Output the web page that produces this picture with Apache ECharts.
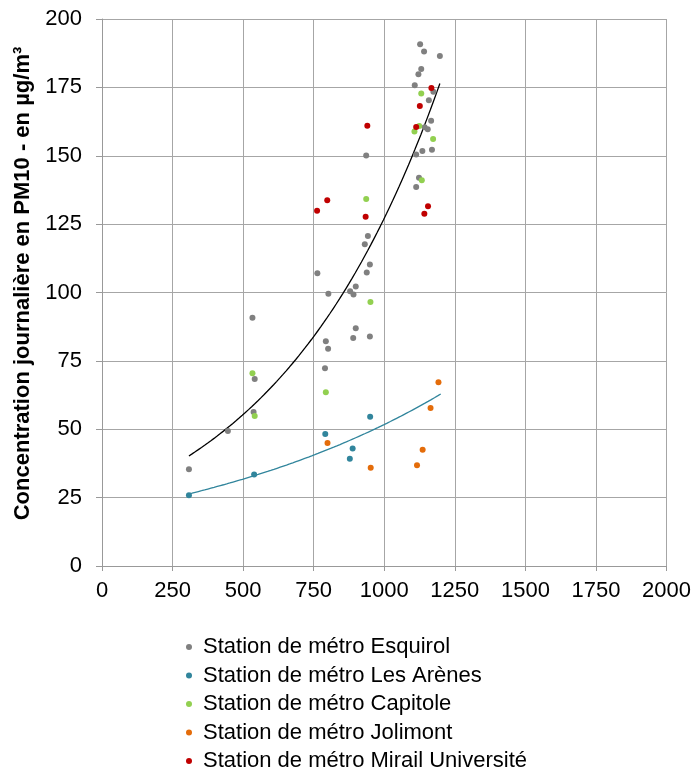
<!DOCTYPE html>
<html><head><meta charset="utf-8">
<script src="https://cdn.jsdelivr.net/npm/echarts@6/dist/echarts.min.js"></script>
<style>html,body{margin:0;padding:0;background:#fff}#c{width:694px;height:774px}</style>
</head><body><div id="c"></div>
<script>
const seriesNames = ["Station de métro Esquirol","Station de métro Les Arènes","Station de métro Capitole","Station de métro Jolimont","Station de métro Mirail Université"];
const esquirol = [[308,35.4],[446,49.4],[533,90.8],[541,68.4],[537,56.3],[763,107],[949,110.2],[938,107.3],[802,99.5],[899,102.2],[879,100.5],[891,99.3],[899,86.9],[890,83.4],[949,83.9],[793,82.2],[801,79.4],[790,72.3],[1127,190.8],[1141,188.1],[1197,186.5],[1131,181.7],[1121,179.8],[1108,175.8],[1174,173.4],[1158,170.3],[1166,162.8],[1143,160.4],[1154,159.7],[1113,150.5],[1135,151.7],[1169,152.2],[1123,142.0],[1113,138.6],[936,150.1],[942,120.7],[931,117.6]];
const arenes = [[308,25.9],[539,33.5],[791,48.3],[878,39.2],[888,43.0],[950,54.6]];
const capitole = [[533,70.5],[541,54.8],[793,63.5],[951,96.5],[936,134.2],[1131,172.8],[1107,158.9],[1124,160.9],[1173,156.1],[1133,141.0]];
const jolimont = [[1192,67.2],[1164,57.8],[799,45.0],[1136,42.5],[1116,36.8],[952,35.9]];
const mirail = [[1167,174.8],[1126,168.2],[1113,160.5],[940,161.0],[798,133.7],[762,129.9],[934,127.7],[1155,131.5],[1142,128.8]];
const xTicks = [0,250,500,750,1000,1250,1500,1750,2000];
const yTicks = [0,25,50,75,100,125,150,175,200];
const arenesForecast = 250;

function expFit(pts){
  const n=pts.length; let sx=0,sl=0;
  pts.forEach(p=>{sx+=p[0]; sl+=Math.log(p[1]);});
  const mx=sx/n, ml=sl/n; let num=0,den=0;
  pts.forEach(p=>{num+=(p[0]-mx)*(Math.log(p[1])-ml); den+=(p[0]-mx)*(p[0]-mx);});
  const b=num/den, a=Math.exp(ml-b*mx);
  return {a,b};
}
function trend(pts, fwd){
  const f=expFit(pts);
  const xs=pts.map(p=>p[0]);
  const x0=Math.min(...xs), x1=Math.max(...xs)+fwd;
  const out=[]; const steps=80;
  for(let i=0;i<=steps;i++){const x=x0+(x1-x0)*i/steps; out.push([x,f.a*Math.exp(f.b*x)]);}
  return out;
}
const colors = ['#808080','#31859C','#92D050','#E46C0A','#C00000'];
const font = 'Liberation Sans, Arial, sans-serif';
const chart = echarts.init(document.getElementById('c'), null, {renderer:'canvas'});
const dataSets=[esquirol,arenes,capitole,jolimont,mirail];
const scatter = dataSets.map((d,i)=>({name:seriesNames[i],type:'scatter',data:d,symbol:'circle',symbolSize:6,itemStyle:{color:colors[i],opacity:1},z:3}));
chart.setOption({
  animation:false,
  textStyle:{fontFamily:font},
  grid:{left:102,right:26,top:19,bottom:208,containLabel:false},
  xAxis:{type:'value',min:xTicks[0],max:xTicks[xTicks.length-1],interval:xTicks[1]-xTicks[0],
    axisLine:{show:true,lineStyle:{color:'#999',width:1}},
    axisTick:{show:true,length:5,inside:false,lineStyle:{color:'#999'}},
    axisLabel:{fontSize:22,color:'#000',fontFamily:font,margin:14,formatter:v=>String(v)},
    splitLine:{show:true,lineStyle:{color:'#a6a6a6',width:1}}},
  yAxis:{type:'value',min:yTicks[0],max:yTicks[yTicks.length-1],interval:yTicks[1]-yTicks[0],
    name:'Concentration journalière en PM10 - en µg/m³',nameLocation:'middle',nameRotate:90,nameGap:68,
    nameTextStyle:{fontSize:22,fontWeight:'bold',color:'#000',fontFamily:font,padding:[0,0,0,18]},
    axisLine:{show:true,lineStyle:{color:'#999',width:1}},
    axisTick:{show:true,length:6,inside:false,lineStyle:{color:'#999'}},
    axisLabel:{fontSize:22,color:'#000',fontFamily:font,margin:20,formatter:v=>String(v)},
    splitLine:{show:true,lineStyle:{color:'#a6a6a6',width:1}}},
  legend:{orient:'vertical',left:186,top:636,padding:0,itemWidth:6,itemHeight:6,itemGap:6.5,
    icon:'circle',data:seriesNames,
    textStyle:{fontSize:22,lineHeight:22,color:'#000',fontFamily:font,padding:[0,0,0,6]}},
  series:[...scatter,
    {name:'trendEsq',type:'line',data:trend(esquirol,0),showSymbol:false,symbol:'none',lineStyle:{color:'#000',width:1.3},z:2,silent:true},
    {name:'trendAr',type:'line',data:trend(arenes,arenesForecast),showSymbol:false,symbol:'none',lineStyle:{color:'#31859C',width:1.3},z:2,silent:true}
  ]
});
</script></body></html>
